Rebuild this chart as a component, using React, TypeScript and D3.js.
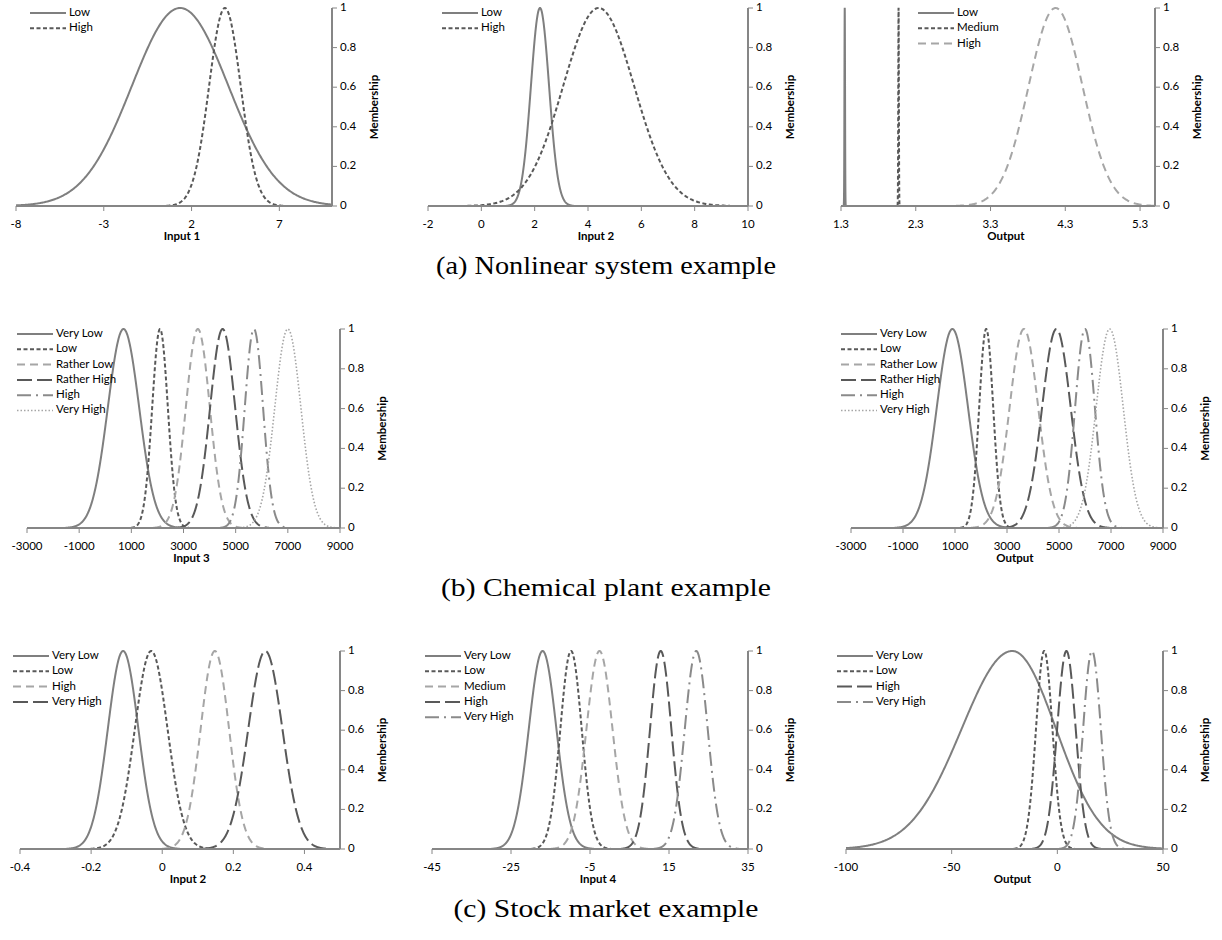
import React from "react";
import * as d3 from "d3";

// ---------- DATA ----------
// (a) Nonlinear system example
const a1Ticks = [-8, -3, 2, 7];
const a1Names = ["Low", "High"];
const a1Centers = [1.35, 3.9];
const a1Sigmas = [2.75, 0.9];

const a2Ticks = [-2, 0, 2, 4, 6, 8, 10];
const a2Names = ["Low", "High"];
const a2Centers = [2.2, 4.4];
const a2Sigmas = [0.34, 1.33];

const a3Ticks = [1.3, 2.3, 3.3, 4.3, 5.3];
const a3Names = ["Low", "Medium", "High"];
const a3Centers = [1.35, 2.07, 4.17];
const a3Sigmas = [0.004, 0.004, 0.36];

// (b) Chemical plant example
const bTicks = [-3000, -1000, 1000, 3000, 5000, 7000, 9000];
const bNames = ["Very Low", "Low", "Rather Low", "Rather High", "High", "Very High"];
const b1Centers = [700, 2100, 3550, 4500, 5700, 7000];
const b1Sigmas = [600, 300, 460, 480, 350, 500];
const b3Centers = [900, 2200, 3650, 4900, 6000, 6950];
const b3Sigmas = [600, 270, 550, 550, 380, 520];

// (c) Stock market example
const c1Ticks = [-0.4, -0.2, 0, 0.2, 0.4];
const c1Names = ["Very Low", "Low", "High", "Very High"];
const c1Centers = [-0.11, -0.031, 0.148, 0.29];
const c1Sigmas = [0.043, 0.046, 0.04, 0.048];

const c2Ticks = [-45, -25, -5, 15, 35];
const c2Names = ["Very Low", "Low", "Medium", "High", "Very High"];
const c2Centers = [-17, -9.8, -2.6, 12.9, 21.9];
const c2Sigmas = [3.5, 2.7, 3.3, 2.7, 2.9];

const c3Ticks = [-100, -50, 0, 50];
const c3Names = ["Very Low", "Low", "High", "Very High"];
const c3Centers = [-21.3, -6.2, 4.3, 16.4];
const c3SigmasLeft = [24, 3.9, 4.4, 4.2];
const c3SigmasRight = [20.7, 3.9, 4.4, 4.2];

const yTicks = [0, 0.2, 0.4, 0.6, 0.8, 1];
const captions = ["(a) Nonlinear system example", "(b) Chemical plant example", "(c) Stock market example"];

// ---------- STYLES ----------
type StyleKey = "solid" | "short" | "light" | "long" | "dashdot" | "dot";
const STYLES: Record<StyleKey, { color: string; dash: string; width: number }> = {
  solid: { color: "#7f7f7f", dash: "none", width: 2 },
  short: { color: "#595959", dash: "4 2.5", width: 2 },
  light: { color: "#a6a6a6", dash: "8 5", width: 2 },
  long: { color: "#595959", dash: "15 5", width: 2 },
  dashdot: { color: "#8a8a8a", dash: "14 5 2 5", width: 2 },
  dot: { color: "#a6a6a6", dash: "1.5 2", width: 1.6 },
};

interface Panel {
  x0: number; x1: number; yTop: number; yBot: number;
  domain: [number, number];
  ticks: number[];
  title: string;
  names: string[];
  centers: number[];
  sigL: number[];
  sigR: number[];
  styles: StyleKey[];
  lx: number;
}

const rowA = { yTop: 8, yBot: 206 };
const rowB = { yTop: 329, yBot: 528 };
const rowC = { yTop: 651, yBot: 849 };

const panels: Panel[] = [
  { x0: 16, x1: 332, ...rowA, domain: [-8, 10], ticks: a1Ticks, title: "Input 1", names: a1Names, centers: a1Centers, sigL: a1Sigmas, sigR: a1Sigmas, styles: ["solid", "short"], lx: 30 },
  { x0: 428, x1: 748, ...rowA, domain: [-2, 10], ticks: a2Ticks, title: "Input 2", names: a2Names, centers: a2Centers, sigL: a2Sigmas, sigR: a2Sigmas, styles: ["solid", "short"], lx: 442 },
  { x0: 841, x1: 1155, ...rowA, domain: [1.3, 5.5], ticks: a3Ticks, title: "Output", names: a3Names, centers: a3Centers, sigL: a3Sigmas, sigR: a3Sigmas, styles: ["solid", "short", "light"], lx: 918 },
  { x0: 27, x1: 340, ...rowB, domain: [-3000, 9000], ticks: bTicks, title: "Input 3", names: bNames, centers: b1Centers, sigL: b1Sigmas, sigR: b1Sigmas, styles: ["solid", "short", "light", "long", "dashdot", "dot"], lx: 17 },
  { x0: 851, x1: 1163, ...rowB, domain: [-3000, 9000], ticks: bTicks, title: "Output", names: bNames, centers: b3Centers, sigL: b3Sigmas, sigR: b3Sigmas, styles: ["solid", "short", "light", "long", "dashdot", "dot"], lx: 841 },
  { x0: 20, x1: 340, ...rowC, domain: [-0.4, 0.5], ticks: c1Ticks, title: "Input 2", names: c1Names, centers: c1Centers, sigL: c1Sigmas, sigR: c1Sigmas, styles: ["solid", "short", "light", "long"], lx: 13 },
  { x0: 432, x1: 748, ...rowC, domain: [-45, 35], ticks: c2Ticks, title: "Input 4", names: c2Names, centers: c2Centers, sigL: c2Sigmas, sigR: c2Sigmas, styles: ["solid", "short", "light", "long", "dashdot"], lx: 425 },
  { x0: 846, x1: 1163, ...rowC, domain: [-100, 50], ticks: c3Ticks, title: "Output", names: c3Names, centers: c3Centers, sigL: c3SigmasLeft, sigR: c3SigmasRight, styles: ["solid", "short", "long", "dashdot"], lx: 837 },
];

const AXIS = "#868686";
const SANS = "Lato, 'Open Sans', sans-serif";

function gauss(x: number, c: number, sl: number, sr: number) {
  const s = x < c ? sl : sr;
  return Math.exp(-0.5 * ((x - c) / s) ** 2);
}

function PanelView({ p }: { p: Panel }) {
  const x = d3.scaleLinear().domain(p.domain).range([p.x0, p.x1]);
  const y = d3.scaleLinear().domain([0, 1]).range([p.yBot, p.yTop]);
  const line = d3.line<[number, number]>().x((d) => x(d[0])).y((d) => y(d[1]));
  const fmt = (v: number) => String(Math.round(v * 1000) / 1000);

  const curves = p.centers.map((c, i) => {
    const lo = Math.max(p.domain[0], c - 3.7 * p.sigL[i]);
    const hi = Math.min(p.domain[1], c + 3.7 * p.sigR[i]);
    const pts: [number, number][] = d3.range(0, 401).map((k) => {
      const xv = lo + ((hi - lo) * k) / 400;
      return [xv, gauss(xv, c, p.sigL[i], p.sigR[i])];
    });
    return line(pts) || "";
  });

  const midX = (p.x0 + p.x1) / 2 + 8;
  const midY = (p.yTop + p.yBot) / 2;

  return (
    <g>
      {curves.map((d, i) => {
        const st = STYLES[p.styles[i]];
        return <path key={"c" + i} d={d} fill="none" stroke={st.color} strokeWidth={st.width} strokeDasharray={st.dash} />;
      })}
      {/* x axis */}
      <line x1={p.x0} x2={p.x1} y1={p.yBot} y2={p.yBot} stroke={AXIS} strokeWidth={2} />
      {p.ticks.map((t) => (
        <g key={"xt" + t}>
          <line x1={x(t)} x2={x(t)} y1={p.yBot} y2={p.yBot + 5} stroke={AXIS} strokeWidth={1} />
          <text x={x(t)} y={p.yBot + 19} fontFamily={SANS} fontSize={11.5} textAnchor="middle" dominantBaseline="middle" fill="#000">{fmt(t)}</text>
        </g>
      ))}
      <text x={midX} y={p.yBot + 31} fontFamily={SANS} fontSize={11.5} fontWeight="bold" textAnchor="middle" dominantBaseline="middle">{p.title}</text>
      {/* y axis (right) */}
      <line x1={p.x1} x2={p.x1} y1={p.yTop} y2={p.yBot} stroke={AXIS} strokeWidth={2} />
      {yTicks.map((t) => (
        <g key={"yt" + t}>
          <line x1={p.x1} x2={p.x1 + 5} y1={y(t)} y2={y(t)} stroke={AXIS} strokeWidth={1} />
          <text x={p.x1 + 8} y={y(t)} fontFamily={SANS} fontSize={11.5} dominantBaseline="middle">{fmt(t)}</text>
        </g>
      ))}
      <text transform={`translate(${p.x1 + 43},${midY}) rotate(-90)`} fontFamily={SANS} fontSize={11.5} fontWeight="bold" textAnchor="middle" dominantBaseline="middle">Membership</text>
      {/* legend */}
      {p.names.map((n, i) => {
        const st = STYLES[p.styles[i]];
        const ly = p.yTop + 5 + i * 15.3;
        return (
          <g key={"lg" + i}>
            <line x1={p.lx} x2={p.lx + 36} y1={ly} y2={ly} stroke={st.color} strokeWidth={st.width} strokeDasharray={st.dash} />
            <text x={p.lx + 39} y={ly} fontFamily={SANS} fontSize={11.5} dominantBaseline="middle">{n}</text>
          </g>
        );
      })}
    </g>
  );
}

const captionWidths = [340, 330, 305];

export default function App() {
  const capY = [rowA.yBot + 62, rowB.yBot + 62, rowC.yBot + 62];
  return (
    <svg width={1222} height={940} style={{ position: "absolute", left: 0, top: 0, background: "#fff" }}>
      <rect x={0} y={0} width={1222} height={940} fill="#fff" />
      {panels.map((p, i) => <PanelView key={i} p={p} />)}
      {captions.map((c, i) => (
        <text key={c} x={606} y={capY[i]} fontFamily="'Liberation Serif', serif" fontSize={26} textAnchor="middle" dominantBaseline="middle" textLength={captionWidths[i]} lengthAdjust="spacingAndGlyphs">{c}</text>
      ))}
    </svg>
  );
}
